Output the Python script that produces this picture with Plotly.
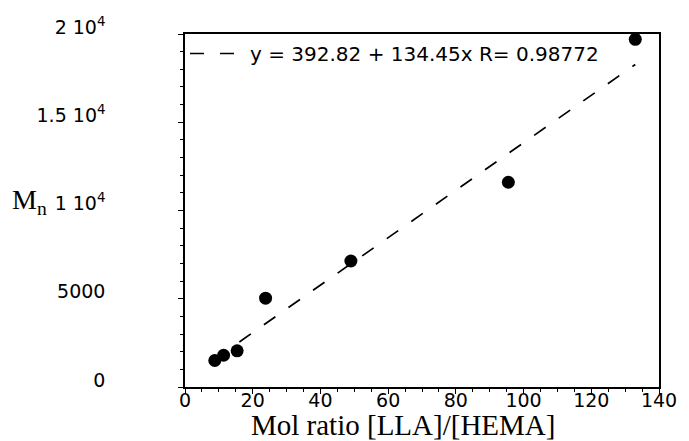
import plotly.graph_objects as go

# Data
mol_ratio = [8.8, 11.4, 15.4, 23.8, 49.0, 95.5, 133.0]
mn_values = [1500, 1800, 2050, 5030, 7140, 11600, 19700]

# Linear fit reported in the chart
fit_intercept = 392.82
fit_slope = 134.45
fit_r = 0.98772

x_tick_vals = [0, 20, 40, 60, 80, 100, 120, 140]
y_tick_vals = [0, 5000, 10000, 15000, 20000]
y_tick_text = ["0", "5000", "1 10<sup>4</sup>", "1.5 10<sup>4</sup>", "2 10<sup>4</sup>"]

fit_x = [min(mol_ratio), max(mol_ratio)]
fit_y = [fit_intercept + fit_slope * v for v in fit_x]
fit_name = f"y = {fit_intercept} + {fit_slope}x R= {fit_r}"

SANS = "DejaVu Sans"
SERIF = "Liberation Serif"

fig = go.Figure()
fig.add_trace(go.Scatter(
    x=fit_x, y=fit_y, mode="lines", name=fit_name,
    line=dict(color="black", width=1.7, dash="14px,16px"),
    showlegend=True,
))
fig.add_trace(go.Scatter(
    x=mol_ratio, y=mn_values, mode="markers",
    marker=dict(color="black", size=13),
    showlegend=False,
))

fig.update_layout(
    width=689, height=441,
    margin=dict(l=185, r=26, t=34, b=54),
    paper_bgcolor="white", plot_bgcolor="white",
    font=dict(family=SANS, color="black", size=19),
    legend=dict(
        x=0, y=1, xanchor="left", yanchor="top",
        bgcolor="rgba(0,0,0,0)", borderwidth=0,
        font=dict(family=SANS, size=20, color="black"),
        itemwidth=55,
    ),
    xaxis=dict(
        range=[0, 140], tickvals=x_tick_vals,
        showgrid=False, zeroline=False,
        showline=True, linecolor="black", linewidth=1.5, mirror=True,
        ticks="outside", ticklen=5, tickwidth=1.2, tickcolor="black",
        minor=dict(dtick=5, ticks="outside", ticklen=3, tickcolor="black", showgrid=False),
        tickfont=dict(family=SANS, size=19),
        ticklabelstandoff=-10,
    ),
    yaxis=dict(
        range=[0, 20000], tickvals=y_tick_vals, ticktext=y_tick_text,
        showgrid=False, zeroline=False,
        showline=True, linecolor="black", linewidth=1.5, mirror=True,
        ticks="outside", ticklen=5, tickwidth=1.2, tickcolor="black",
        minor=dict(dtick=1000, ticks="outside", ticklen=3, tickcolor="black", showgrid=False),
        tickfont=dict(family=SANS, size=19),
        ticklabelstandoff=69, ticklabelshift=-7,
    ),
    annotations=[
        dict(text="Mol ratio [LLA]/[HEMA]", xref="paper", yref="paper",
             x=0.46, y=0, yshift=-20, xanchor="center", yanchor="top",
             showarrow=False, font=dict(family=SERIF, size=29, color="black")),
        dict(text="M<sub>n</sub>", xref="paper", yref="paper",
             x=0, xshift=-175, y=0.5, yshift=9, yanchor="middle", xanchor="left",
             showarrow=False, font=dict(family=SERIF, size=28, color="black")),
    ],
)

fig.write_html("out.html", config={"displayModeBar": False},
               post_script="document.body.style.margin='0';")
